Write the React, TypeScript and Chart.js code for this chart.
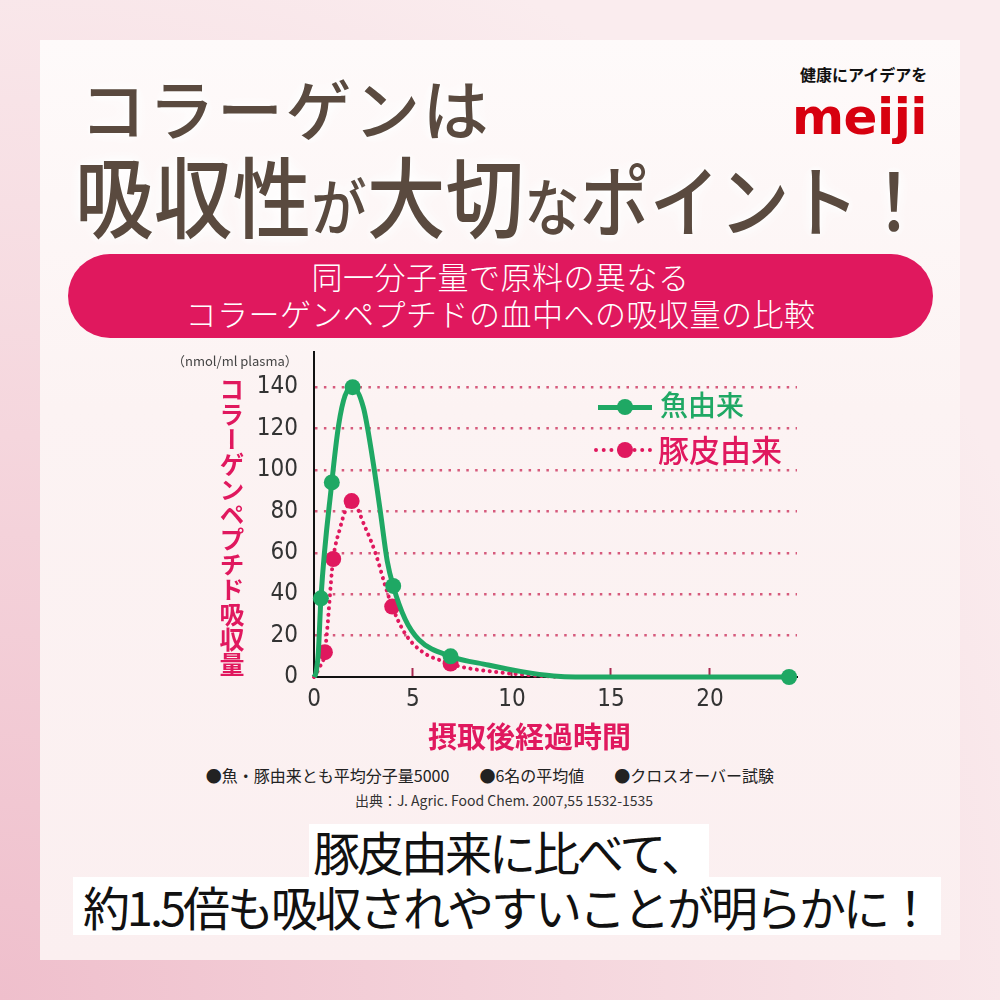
import React, { useEffect, useRef } from "react";
import { Chart, registerables } from "chart.js";

Chart.register(...registerables);

// ---- data ----
const FISH_LABEL = "魚由来";
const PORK_LABEL = "豚皮由来";
const X_TICKS = [0, 5, 10, 15, 20];
const Y_TICKS = [0, 20, 40, 60, 80, 100, 120, 140];

// measured points (hours after intake, nmol/ml plasma)
const fishHours = [0.35, 0.9, 1.95, 4.0, 6.9, 24];
const fishValues = [38, 94, 140, 44, 10, 0];
const porkHours = [0.55, 0.97, 1.9, 3.95, 6.9];
const porkValues = [12, 57, 85, 34, 6.5];

// smooth curves
const fishCurveHours = [0, 0.1, 0.22, 0.35, 0.9, 1.25, 1.57, 1.95, 2.5, 2.95, 3.35, 3.7, 4.0, 4.6, 5.3, 6.9, 8.8, 10.5, 12.1, 13.2, 24];
const fishCurveValues = [0, 2, 12, 38, 94, 122, 136, 140, 130, 106, 80, 56, 44, 28, 18, 10, 5.8, 2.6, 0.5, 0, 0];
const porkCurveHours = [0, 0.3, 0.55, 0.97, 1.32, 1.57, 1.9, 2.6, 3.1, 3.6, 3.95, 4.6, 5.5, 6.9, 7.4, 9.6, 11.3, 12.5];
const porkCurveValues = [0, 5, 12, 57, 72, 80, 85, 72, 60, 44, 34, 21, 12, 6.5, 5, 2, 0.6, 0];

const GREEN = "#1fa864";
const PINK = "#e0185e";

const toXY = (xs: number[], ys: number[]) => xs.map((x, i) => ({ x, y: ys[i] }));

function CollagenChart() {
  const ref = useRef<HTMLCanvasElement | null>(null);
  useEffect(() => {
    if (!ref.current) return;
    const tickFont = { family: "'Liberation Sans Narrow', 'DejaVu Sans Condensed', sans-serif", size: 24 };
    const chart = new Chart(ref.current, {
      type: "line",
      data: {
        datasets: [
          {
            label: FISH_LABEL,
            data: toXY(fishHours, fishValues),
            showLine: false,
            pointRadius: 8,
            pointBackgroundColor: GREEN,
            pointBorderWidth: 0,
            borderColor: GREEN,
            clip: false,
          } as any,
          {
            label: FISH_LABEL + " curve",
            data: toXY(fishCurveHours, fishCurveValues),
            borderColor: GREEN,
            borderWidth: 5,
            pointRadius: 0,
            cubicInterpolationMode: "monotone",
            clip: false,
          },
          {
            label: PORK_LABEL,
            data: toXY(porkHours, porkValues),
            showLine: false,
            pointRadius: 8,
            pointBackgroundColor: PINK,
            pointBorderWidth: 0,
            borderColor: PINK,
            clip: false,
          },
          {
            label: PORK_LABEL + " curve",
            data: toXY(porkCurveHours, porkCurveValues),
            borderColor: PINK,
            borderWidth: 4,
            borderDash: [0.1, 6.4],
            borderCapStyle: "round",
            pointRadius: 0,
            cubicInterpolationMode: "monotone",
            clip: false,
          },
        ],
      },
      options: {
        animation: false,
        responsive: false,
        layout: { padding: { top: 20, right: 13, left: 0, bottom: 0 } },
        plugins: { legend: { display: false }, tooltip: { enabled: false } },
        scales: {
          x: {
            type: "linear",
            min: 0,
            max: 24.4,
            afterBuildTicks: (s: any) => {
              s.ticks = X_TICKS.map((v) => ({ value: v }));
            },
            afterFit: (s: any) => {
              s.height = 45;
              s.paddingLeft = 0;
              s.paddingRight = 0;
            },
            ticks: { padding: 17, font: tickFont, color: "#333", maxRotation: 0 },
            grid: {
              drawOnChartArea: false,
              drawTicks: true,
              tickLength: -9,
              tickColor: "#a8294f",
              tickWidth: 2,
              color: "rgba(0,0,0,0)",
            },
            border: { color: "#111", width: 2 },
          },
          y: {
            type: "linear",
            min: 0,
            max: 157,
            afterBuildTicks: (s: any) => {
              s.ticks = Y_TICKS.map((v) => ({ value: v }));
            },
            afterFit: (s: any) => {
              s.width = 74;
              s.paddingTop = 0;
              s.paddingBottom = 0;
            },
            ticks: { padding: 16, font: tickFont, color: "#333" },
            grid: {
              drawTicks: false,
              lineWidth: 2.5,
              color: (ctx: any) => (ctx.tick && ctx.tick.value === 0 ? "rgba(0,0,0,0)" : "#d65a7c"),
            },
            border: { color: "#111", width: 2, dash: [2.5, 6.4] },
          },
        },
      },
    });
    return () => chart.destroy();
  }, []);
  return <canvas ref={ref} width={570} height={390} style={{ display: "block" }} />;
}

const abs = (s: React.CSSProperties): React.CSSProperties => ({ position: "absolute", ...s });
const JP = "'Noto Sans CJK JP', 'Noto Sans', sans-serif";

export default function App() {
  const glow = "0 0 6px #fff, 0 0 12px #fff, 0 0 18px #fff";
  return (
    <div
      style={abs({
        left: 0,
        top: 0,
        width: 1000,
        height: 1000,
        overflow: "hidden",
        fontFamily: JP,
        background: "radial-gradient(circle at 0% 100%, #efbfcc 0%, #f5d6dd 40%, #faecee 80%)",
      })}
    >
      {/* inner panel */}
      <div
        style={abs({
          left: 40,
          top: 40,
          width: 920,
          height: 920,
          background: "linear-gradient(to bottom, #fefafa 0%, #fcf3f3 40%, #fbeff0 100%)",
        })}
      />

      {/* title */}
      <div
        style={abs({
          left: 80,
          top: 73,
          fontSize: 66,
          lineHeight: 1,
          fontWeight: 500,
          color: "#5a4a3f",
          letterSpacing: 2.5,
          whiteSpace: "nowrap",
          textShadow: glow,
        })}
      >
        コラーゲンは
      </div>
      <div
        style={abs({
          left: 75,
          top: 149,
          fontSize: 88,
          lineHeight: 1,
          fontWeight: 500,
          color: "#5a4a3f",
          whiteSpace: "nowrap",
          textShadow: glow,
          transform: "scaleX(0.895)",
          transformOrigin: "left top",
        })}
      >
        <span>吸収性</span>
        <span style={{ fontSize: 62 }}>が</span>
        <span>大切</span>
        <span style={{ fontSize: 62 }}>な</span>
        <span style={{ fontSize: 78 }}>ポイント！</span>
      </div>

      {/* logo */}
      <div style={abs({ left: 800, top: 66, fontSize: 16, lineHeight: 1, fontWeight: 700, color: "#111", whiteSpace: "nowrap" })}>
        健康にアイデアを
      </div>
      <div
        style={abs({
          left: 792,
          top: 92,
          fontSize: 50,
          lineHeight: 1,
          fontWeight: 700,
          color: "#d7000f",
          fontFamily: "'DejaVu Sans', sans-serif",
          letterSpacing: -0.5,
        })}
      >
        meiji
      </div>

      {/* banner */}
      <div
        style={abs({
          left: 68,
          top: 254,
          width: 865,
          height: 84,
          borderRadius: 42,
          background: PINK,
          color: "#fff",
          fontSize: 31,
          fontWeight: 300,
          lineHeight: "37px",
          textAlign: "center",
          paddingTop: 3,
          boxSizing: "border-box",
          letterSpacing: 0.5,
        })}
      >
        <div>同一分子量で原料の異なる</div>
        <div>コラーゲンペプチドの血中への吸収量の比較</div>
      </div>

      {/* chart */}
      <div style={abs({ left: 240, top: 332, width: 570, height: 390 })}>
        <CollagenChart />
      </div>

      {/* unit and axis titles */}
      <div style={abs({ left: 172, top: 354, fontSize: 13, lineHeight: 1, color: "#444", whiteSpace: "nowrap" })}>
        （nmol/ml plasma）
      </div>
      <div
        style={abs({
          left: 219,
          top: 377,
          fontSize: 25,
          lineHeight: 1,
          fontWeight: 700,
          color: PINK,
          writingMode: "vertical-rl",
          whiteSpace: "nowrap",
        })}
      >
        コラーゲンペプチド吸収量
      </div>
      <div style={abs({ left: 428, top: 721, fontSize: 29, lineHeight: 1, fontWeight: 700, color: PINK, whiteSpace: "nowrap" })}>
        摂取後経過時間
      </div>

      {/* legend */}
      <div style={abs({ left: 598, top: 405, width: 54, height: 5, background: GREEN })} />
      <div style={abs({ left: 617, top: 399, width: 16, height: 16, borderRadius: 8, background: GREEN })} />
      <div style={abs({ left: 660, top: 390, fontSize: 28, lineHeight: 1, fontWeight: 500, color: GREEN, whiteSpace: "nowrap" })}>
        {FISH_LABEL}
      </div>
      <div style={abs({ left: 594, top: 448, width: 58, height: 0, borderTop: `4px dotted ${PINK}` })} />
      <div style={abs({ left: 617, top: 442, width: 16, height: 16, borderRadius: 8, background: PINK })} />
      <div style={abs({ left: 658, top: 433, fontSize: 31, lineHeight: 1, fontWeight: 500, color: PINK, whiteSpace: "nowrap" })}>
        {PORK_LABEL}
      </div>

      {/* notes */}
      <div style={abs({ left: 0, width: 980, top: 767, fontSize: 16, lineHeight: 1, color: "#222", textAlign: "center", whiteSpace: "nowrap" })}>
        <span>●魚・豚由来とも平均分子量5000</span>
        <span style={{ marginLeft: 30 }}>●6名の平均値</span>
        <span style={{ marginLeft: 30 }}>●クロスオーバー試験</span>
      </div>
      <div style={abs({ left: 0, width: 1008, top: 793, fontSize: 14, lineHeight: 1, color: "#333", textAlign: "center", whiteSpace: "nowrap" })}>
        出典：J. Agric. Food Chem. 2007,55 1532-1535
      </div>

      {/* conclusion */}
      <div style={abs({ left: 0, width: 1018, top: 824, textAlign: "center" })}>
        <span
          style={{
            display: "inline-block",
            background: "#fff",
            fontSize: 47,
            lineHeight: "53px",
            letterSpacing: -3,
            color: "#111",
            padding: "0 4px",
            whiteSpace: "nowrap",
          }}
        >
          豚皮由来に比べて、
        </span>
      </div>
      <div style={abs({ left: 0, width: 1014, top: 877, textAlign: "center" })}>
        <span
          style={{
            display: "inline-block",
            background: "#fff",
            fontSize: 47,
            lineHeight: "58px",
            letterSpacing: -3,
            color: "#111",
            padding: "0 10px",
            whiteSpace: "nowrap",
          }}
        >
          約1.5倍も吸収されやすいことが明らかに！
        </span>
      </div>
    </div>
  );
}
